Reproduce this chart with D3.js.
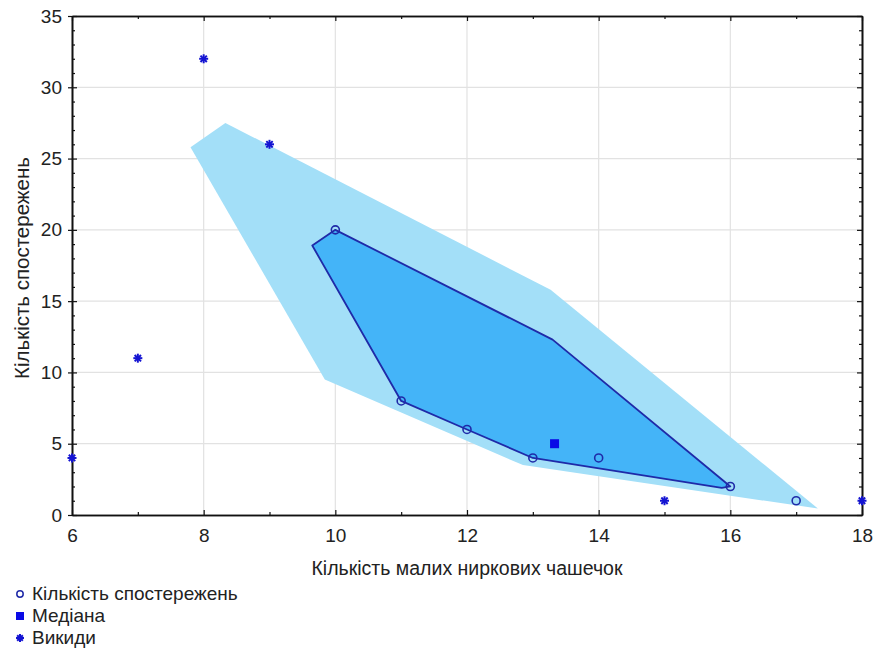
<!DOCTYPE html>
<html><head><meta charset="utf-8">
<script src="https://cdn.jsdelivr.net/npm/d3@7"></script>
<style>body{margin:0;background:#fff}text{font-family:"Liberation Sans",Arial,sans-serif;fill:#222}</style>
</head><body>
<svg id="c" width="876" height="648"></svg>
<script>
const obsX = [10, 11, 12, 13, 14, 16, 17];
const obsY = [20, 8, 6, 4, 4, 2, 1];
const medianX = [13.33];
const medianY = [5];
const outX = [6, 7, 8, 9, 15, 18];
const outY = [4, 11, 32, 26, 1, 1];
const innerHullX = [10, 9.65, 11, 12, 13, 15.87, 16, 13.3];
const innerHullY = [20, 18.9, 8, 6, 4, 1.9, 2, 12.3];
const outerHullX = [7.8, 8.33, 13.27, 17.33, 12.85, 9.84];
const outerHullY = [25.8, 27.5, 15.8, 0.45, 3.5, 9.5];
const xTicks = [6, 8, 10, 12, 14, 16, 18];
const yTicks = [0, 5, 10, 15, 20, 25, 30, 35];
const xLabel = "Кількість малих ниркових чашечок";
const yLabel = "Кількість спостережень";
const legendLabels = ["Кількість спостережень", "Медіана", "Викиди"];

const L = 72, R = 862, T = 16, B = 515;
const x = d3.scaleLinear().domain([6, 18]).range([L, R]);
const y = d3.scaleLinear().domain([0, 35]).range([B, T]);
const svg = d3.select("#c");

const markColor = "#1414d2";
const strokeColor = "#1f2aa8";

// grid
svg.append("g").selectAll("line").data(xTicks.slice(1, -1)).join("line")
  .attr("x1", d => x(d)).attr("x2", d => x(d)).attr("y1", T).attr("y2", B)
  .attr("stroke", "#e2e2e2").attr("stroke-width", 1.2);
svg.append("g").selectAll("line").data(yTicks.slice(1, -1)).join("line")
  .attr("y1", d => y(d)).attr("y2", d => y(d)).attr("x1", L).attr("x2", R)
  .attr("stroke", "#e2e2e2").attr("stroke-width", 1.2);

// hulls
const outerPts = outerHullX.map((v, i) => [x(v), y(outerHullY[i])]);
const innerPts = innerHullX.map((v, i) => [x(v), y(innerHullY[i])]);
const line = d3.line().curve(d3.curveLinearClosed);
svg.append("path").attr("d", line(outerPts)).attr("fill", "#a3dff8").attr("stroke", "none");
svg.append("path").attr("d", line(innerPts)).attr("fill", "#44b4f8")
  .attr("stroke", strokeColor).attr("stroke-width", 1.8).attr("stroke-linejoin", "round");

// axes frame
const minorX = d3.range(6, 18.01, 1).filter(v => v % 2 !== 0);
const minorY = d3.range(0, 35.01, 1).filter(v => v % 5 !== 0);
function axisG(ax, tr) {
  const g = svg.append("g").attr("transform", tr).call(ax);
  g.select(".domain").attr("stroke", "#111").attr("stroke-width", 1.6);
  g.selectAll(".tick line").attr("stroke", "#111").attr("stroke-width", 1.2);
  return g;
}
const fmt = d3.format("d");
const bx = axisG(d3.axisBottom(x).tickValues(xTicks).tickSize(-5).tickSizeOuter(0).tickPadding(14).tickFormat(fmt), `translate(0,${B})`);
bx.selectAll("text").attr("font-size", 19).attr("fill", "#222");
axisG(d3.axisBottom(x).tickValues(minorX).tickSize(-3).tickSizeOuter(0).tickFormat(""), `translate(0,${B})`);
axisG(d3.axisTop(x).tickValues(xTicks).tickSize(-5).tickSizeOuter(0).tickFormat(""), `translate(0,${T})`);
axisG(d3.axisTop(x).tickValues(minorX).tickSize(-3).tickSizeOuter(0).tickFormat(""), `translate(0,${T})`);
const ly = axisG(d3.axisLeft(y).tickValues(yTicks).tickSize(-5).tickSizeOuter(0).tickPadding(10).tickFormat(fmt), `translate(${L},0)`);
ly.selectAll("text").attr("font-size", 19).attr("fill", "#222");
ly.selectAll(".tick").append("line").attr("x1", 0).attr("x2", -4).attr("stroke", "#111").attr("stroke-width", 1.2);
axisG(d3.axisLeft(y).tickValues(minorY).tickSize(-3).tickSizeOuter(0).tickFormat(""), `translate(${L},0)`);
axisG(d3.axisRight(y).tickValues(yTicks).tickSize(-5).tickSizeOuter(0).tickFormat(""), `translate(${R},0)`);
axisG(d3.axisRight(y).tickValues(minorY).tickSize(-3).tickSizeOuter(0).tickFormat(""), `translate(${R},0)`);

// titles
svg.append("text").attr("x", 467).attr("y", 575).attr("text-anchor", "middle")
  .attr("font-size", 19.5).text(xLabel);
svg.append("text").attr("transform", "translate(29,268) rotate(-90)").attr("text-anchor", "middle")
  .attr("font-size", 20.5).text(yLabel);

// markers
function star(g, cx, cy, r) {
  const s = g.append("g").attr("transform", `translate(${cx},${cy})`);
  [0, 45, 90, 135].forEach(a => {
    s.append("line").attr("x1", -r).attr("x2", r).attr("y1", 0).attr("y2", 0)
      .attr("transform", `rotate(${a})`).attr("stroke", markColor).attr("stroke-width", 2);
  });
  s.append("circle").attr("r", r * 0.45).attr("fill", markColor);
}
const mk = svg.append("g");
obsX.forEach((v, i) => mk.append("circle").attr("cx", x(v)).attr("cy", y(obsY[i])).attr("r", 4)
  .attr("fill", "none").attr("stroke", strokeColor).attr("stroke-width", 1.6));
medianX.forEach((v, i) => mk.append("rect").attr("x", x(v) - 4.5).attr("y", y(medianY[i]) - 4.5)
  .attr("width", 9).attr("height", 9).attr("fill", "#0a0ae6"));
outX.forEach((v, i) => star(mk, x(v), y(outY[i]), 4.5));

// legend
const lg = svg.append("g");
const ly0 = [594, 616, 638];
lg.append("circle").attr("cx", 20).attr("cy", ly0[0]).attr("r", 3.2).attr("fill", "none")
  .attr("stroke", strokeColor).attr("stroke-width", 1.5);
lg.append("rect").attr("x", 16).attr("y", ly0[1] - 4).attr("width", 8).attr("height", 8).attr("fill", "#0a0ae6");
star(lg, 20, ly0[2], 4);
legendLabels.forEach((t, i) => lg.append("text").attr("x", 32).attr("y", ly0[i] + 6)
  .attr("font-size", 19).text(t));
</script>
</body></html>
